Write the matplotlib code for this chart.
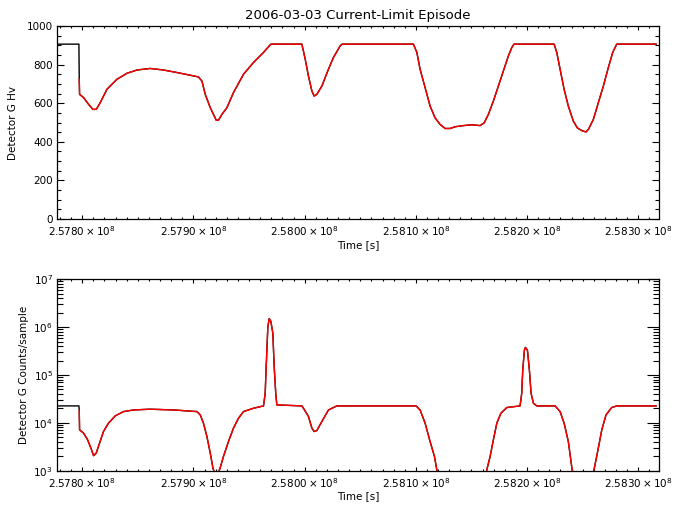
import matplotlib
matplotlib.use("Agg")
import matplotlib.pyplot as plt
from matplotlib.ticker import FuncFormatter, MultipleLocator, LogLocator
import numpy as np

plt.rcParams['font.family'] = ['DejaVu Sans']
plt.rcParams['mathtext.fontset'] = 'dejavusans'

title = "2006-03-03 Current-Limit Episode"
xlabel = "Time [s]"
ylabel_hv = "Detector G Hv"
ylabel_counts = "Detector G Counts/sample"

# ---- HV panel data (time [s], HV) ----
hv_time = [257777300, 257797000, 257797300, 257797600, 257801200, 257805700, 257809600,
           257812600, 257816200, 257822200, 257831200, 257840200, 257849200, 257861100,
           257873100, 257885100, 257897100, 257904500, 257907600, 257910600, 257915100,
           257920500, 257922500, 257925600, 257930100, 257936000, 257945000, 257954000,
           257963000, 257969600, 257997500, 258000500, 258003400, 258006500, 258008500,
           258011000, 258015500, 258021400, 258025900, 258031900, 258033700, 258097800,
           258100900, 258103800, 258108300, 258112800, 258117300, 258121800, 258126300,
           258130800, 258135300, 258142800, 258150300, 258157800, 258161400, 258165200,
           258169700, 258174200, 258178700, 258183200, 258186300, 258188300, 258224300,
           258226700, 258229700, 258233300, 258237100, 258241600, 258245200, 258249200,
           258253000, 258255100, 258259600, 258264100, 258268600, 258273100, 258277000,
           258280600, 258316000]
hv_value = [906, 906, 724, 646, 629, 594, 568,
            568, 603, 672, 724, 755, 772, 780,
            772, 759, 745, 736, 715, 646, 577,
            512, 512, 542, 577, 655, 750, 811,
            863, 906, 906, 828, 741, 663, 637,
            646, 689, 776, 837, 897, 906, 906,
            863, 776, 681, 585, 524, 490, 469,
            469, 478, 484, 488, 484, 498, 542,
            611, 689, 767, 845, 889, 906, 906,
            863, 776, 672, 585, 507, 472, 458,
            451, 464, 516, 603, 689, 785, 863,
            906, 906]
hv_red_start = 2

# ---- Counts panel data (time [s], counts/sample) ----
ct_time = [257777300, 257797000, 257797300, 257797600, 257801200, 257804800, 257807800,
           257810200, 257812600, 257815600, 257819100, 257823600, 257829700, 257837100,
           257846100, 257861100, 257882100, 257903100, 257906100, 257909000, 257912100,
           257915100, 257917500, 257920500, 257924000, 257927000, 257931500, 257936000,
           257940500, 257945000, 257954000, 257963000, 257964500, 257965400, 257966900,
           257968100, 257969600, 257971400, 257972600, 257974100, 257975000, 257997500,
           257998900, 258003400, 258006500, 258008500, 258011000, 258015500, 258021400,
           258029000, 258100200, 258103800, 258108300, 258112800, 258116700, 258118800,
           258121800, 258126300, 258157800, 258161400, 258163800, 258166800, 258169700,
           258172800, 258176400, 258181800, 258193700, 258195200, 258196100, 258197600,
           258198500, 258200300, 258202100, 258203600, 258205700, 258208700, 258225200,
           258229700, 258233300, 258237100, 258240500, 258245200, 258253000, 258256600,
           258260200, 258263200, 258267200, 258271000, 258276100, 258280600, 258316000]
ct_value = [22600, 22600, 18200, 7150, 6100, 4430, 2970,
            2060, 2340, 3780, 6590, 9860, 14000, 17200,
            18600, 19300, 18600, 17200, 14700, 9860, 5190,
            2340, 1140, 700, 1140, 1990, 4070, 7760,
            12500, 17200, 20200, 22600, 41500, 148000, 1010000,
            1510000, 1320000, 741000, 148000, 38000, 23700, 22600,
            20200, 13600, 7760, 6590, 6920, 10700, 18600,
            22600, 22600, 18600, 9860, 4070, 1990, 1050,
            500, 300, 300, 500, 1050, 1990, 4430,
            9860, 15800, 20900, 22600, 41500, 126000, 331000,
            378000, 331000, 126000, 41500, 25700, 22600, 22600,
            17200, 9860, 4070, 1050, 500, 350, 500,
            1050, 2340, 7150, 14700, 20900, 22600, 22600]
ct_red_start = 2

x_range = (257777300, 258318900)


def xfmt(v, pos):
    return r"$\mathdefault{%.4f\times10^{8}}$" % (v / 1e8)


fig = plt.figure(figsize=(6.79, 5.11), dpi=100)
ax1 = fig.add_axes([57 / 679, 1 - 219 / 511, 602.3 / 679, 193 / 511])
ax2 = fig.add_axes([57 / 679, 1 - 470.7 / 511, 602.3 / 679, 191.4 / 511])

fs = 7.5
for ax in (ax1, ax2):
    ax.set_xlim(*x_range)
    ax.xaxis.set_major_locator(MultipleLocator(1e5))
    ax.xaxis.set_minor_locator(MultipleLocator(1e4))
    ax.xaxis.set_major_formatter(FuncFormatter(xfmt))
    ax.set_xlabel(xlabel, fontsize=fs, labelpad=1)
    ax.tick_params(axis='both', which='both', direction='in', top=True, right=True,
                   labelsize=fs, width=0.8)
    ax.tick_params(axis='x', which='major', length=2.6, pad=4)
    ax.tick_params(axis='x', which='minor', length=1.3)
    for s in ax.spines.values():
        s.set_linewidth(0.9)

# Top panel
ax1.plot(hv_time, hv_value, color='black', lw=1.0)
ax1.plot(hv_time[hv_red_start:], hv_value[hv_red_start:], color='red', lw=1.0)
ax1.set_ylim(0, 1000)
ax1.yaxis.set_major_locator(MultipleLocator(200))
ax1.yaxis.set_minor_locator(MultipleLocator(50))
ax1.tick_params(axis='y', which='major', length=5, pad=3)
ax1.tick_params(axis='y', which='minor', length=3)
ax1.set_ylabel(ylabel_hv, fontsize=fs, labelpad=6)
ax1.set_title(title, fontsize=9.5, pad=5)

# Bottom panel
ax2.plot(ct_time, ct_value, color='black', lw=1.0)
ax2.plot(ct_time[ct_red_start:], ct_value[ct_red_start:], color='red', lw=1.0)
ax2.set_yscale('log')
ax2.set_ylim(1e3, 1e7)
ax2.yaxis.set_major_locator(LogLocator(base=10, numticks=10))
ax2.yaxis.set_minor_locator(LogLocator(base=10, subs=np.arange(2, 10), numticks=20))
ax2.tick_params(axis='y', which='major', length=8.5, pad=3)
ax2.tick_params(axis='y', which='minor', length=4.5)
ax2.set_ylabel(ylabel_counts, fontsize=fs, labelpad=3)

fig.savefig("out.png", dpi=100)
